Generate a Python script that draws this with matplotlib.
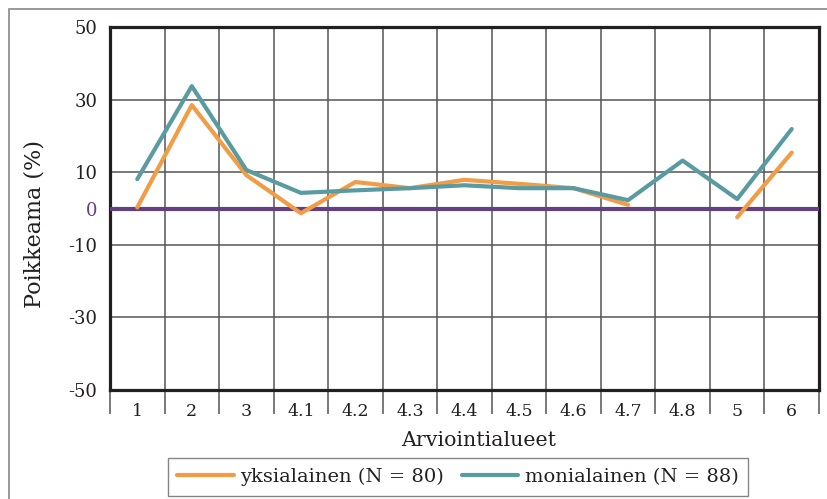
import numpy as np
import matplotlib
matplotlib.use("Agg")
import matplotlib.pyplot as plt
from matplotlib.patches import Rectangle

categories = ["1", "2", "3", "4.1", "4.2", "4.3", "4.4", "4.5", "4.6", "4.7", "4.8", "5", "6"]
yksialainen = [0.3, 28.5, 9.2, -1.3, 7.3, 5.6, 7.9, 6.8, 5.6, 1.0, np.nan, -2.4, 15.4]
monialainen = [8.1, 33.7, 10.6, 4.3, 5.0, 5.6, 6.4, 5.6, 5.6, 2.3, 13.2, 2.6, 21.9]
yticks = [50, 30, 10, 0, -10, -30, -50]
series_labels = ["yksialainen (N = 80)", "monialainen (N = 88)"]

plt.rcParams['font.family'] = ['DejaVu Serif']

W, H = 828, 499
fig = plt.figure(figsize=(W / 100, H / 100), dpi=100)
ax = fig.add_axes([110 / W, 1 - 390 / H, 709 / W, 363 / H])

# figure frame
fig.patches.append(Rectangle((9 / W, -0.1), 1.2, (H - 9) / H + 0.1, transform=fig.transFigure,
                             fill=False, edgecolor="#888888", linewidth=1.2))

x = np.arange(len(categories))
orange = "#F29C45"
teal = "#5A9BA2"
purple = "#633F86"
ink = "#231F20"

ax.axhline(0, color=purple, linewidth=3.0, zorder=3)
l1, = ax.plot(x, yksialainen, color=orange, linewidth=3.0, solid_capstyle="round", zorder=4)
l2, = ax.plot(x, monialainen, color=teal, linewidth=3.0, solid_capstyle="round", zorder=5)

ax.set_xlim(-0.5, len(categories) - 0.5)
ax.set_ylim(-50, 50)
ax.set_yticks(yticks)
ax.set_yticklabels([str(v) for v in yticks])
ax.set_xticks(x)
ax.set_xticklabels(categories)
ax.set_xticks(np.arange(-0.5, len(categories)), minor=True)

ax.grid(axis="y", which="major", color="#555555", linewidth=1.1, zorder=1)
ax.grid(axis="x", which="minor", color="#555555", linewidth=1.1, zorder=1)
ax.set_axisbelow(True)

ax.tick_params(axis="y", which="major", length=0, labelsize=13, pad=9, colors=ink)
ax.tick_params(axis="x", which="major", length=0, labelsize=12.5, pad=9, colors=ink)
ax.tick_params(axis="x", which="minor", length=17, width=1.1, color="#555555", direction="out")

for lab in ax.get_yticklabels():
    if lab.get_text() == "0":
        lab.set_color(purple)

for s in ax.spines.values():
    s.set_color(ink)
    s.set_linewidth(2.3)

fig.text(35 / W, 1 - 224 / H, "Poikkeama (%)", rotation=90, ha="center", va="center",
         fontsize=16, color=ink)
fig.text(479 / W, 1 - 441 / H, "Arviointialueet", ha="center", va="center",
         fontsize=14.8, color=ink)

leg = fig.legend([l1, l2], series_labels, loc="center", bbox_to_anchor=(458 / W, 1 - 477 / H),
                 ncol=2, fontsize=14, frameon=True, fancybox=False, handlelength=2.9,
                 handletextpad=0.35, columnspacing=0.9, borderpad=0.5)
leg.get_frame().set_edgecolor("#666666")
leg.get_frame().set_linewidth(1.0)
for t in leg.get_texts():
    t.set_color(ink)

fig.savefig("out.png", dpi=100)
